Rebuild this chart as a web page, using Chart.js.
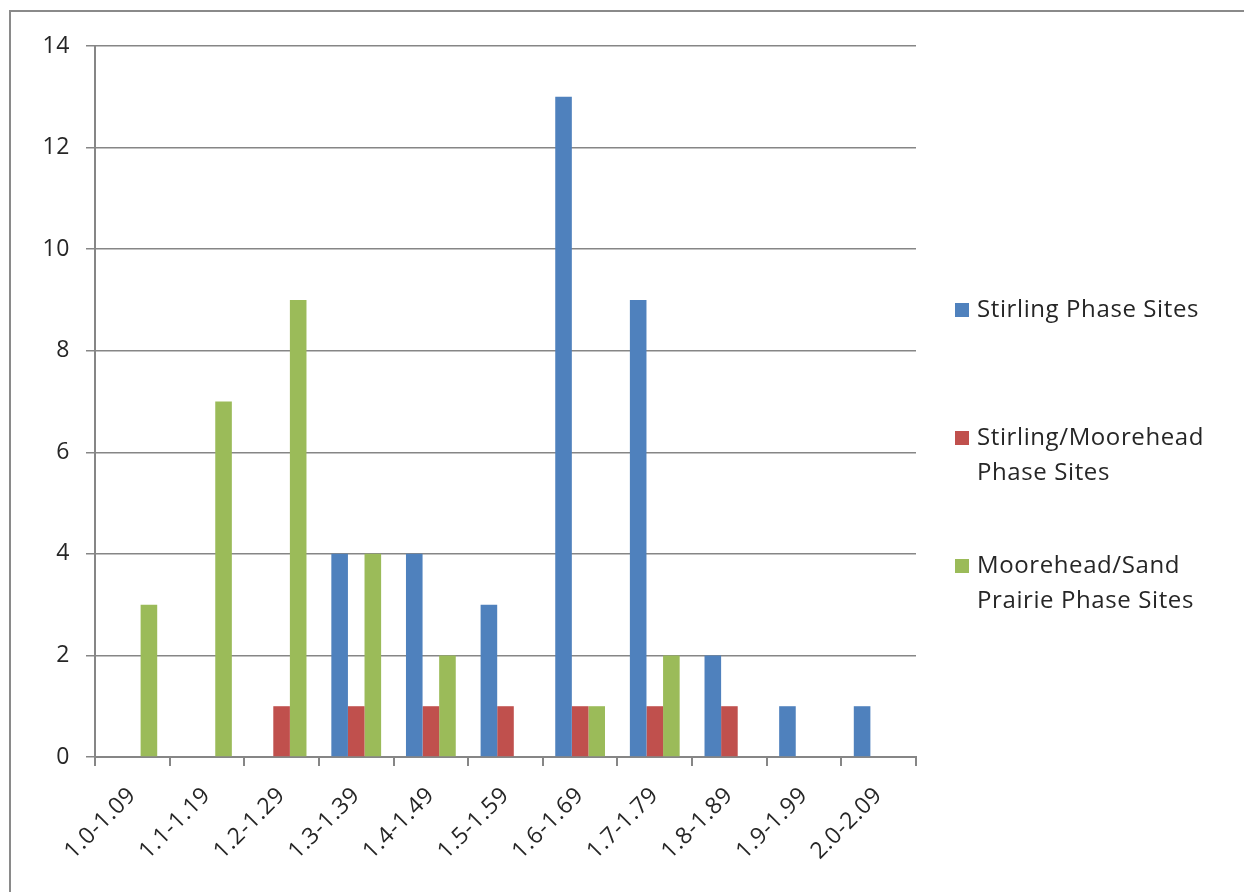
<!DOCTYPE html>
<html>
<head>
<meta charset="utf-8">
<script src="https://cdn.jsdelivr.net/npm/chart.js@4/dist/chart.umd.min.js"></script>
<style>
  html, body { margin: 0; padding: 0; background: #ffffff; }
  #frame {
    position: absolute; left: 9px; top: 10px; width: 1400px; height: 1000px;
    border-top: 2px solid #8a8a8a; border-left: 2px solid #8a8a8a;
  }
  #wrap { position: absolute; left: 0; top: 0; width: 1244px; height: 892px; }
</style>
</head>
<body>
<div id="frame"></div>
<div id="wrap"><canvas id="c" width="1244" height="892"></canvas></div>
<script>
// Ratio ranges (categories)
const categories = ['1.0-1.09', '1.1-1.19', '1.2-1.29', '1.3-1.39', '1.4-1.49', '1.5-1.59',
                    '1.6-1.69', '1.7-1.79', '1.8-1.89', '1.9-1.99', '2.0-2.09'];

// Site counts per phase
const stirling          = [0, 0, 0, 4, 4, 3, 13, 9, 2, 1, 1];
const stirlingMoorehead = [0, 0, 1, 1, 1, 1, 1, 1, 1, 0, 0];
const mooreheadSand     = [3, 7, 9, 4, 2, 0, 1, 2, 0, 0, 0];

// Legend text, split the way it wraps
const seriesNames = [
  ['Stirling Phase Sites'],
  ['Stirling/Moorehead', 'Phase Sites'],
  ['Moorehead/Sand', 'Prairie Phase Sites']
];

const yTicks = [0, 2, 4, 6, 8, 10, 12, 14];

const colors = ['#4f81bd', '#c0504d', '#9bbb59'];
const FONT = '"Open Sans", Lato, sans-serif';
const TEXT = '#262626';
const SPACING = '0.6px';

// Slightly open letter spacing for all chart text
const textSpacing = {
  id: 'textSpacing',
  beforeDraw(chart) { chart.ctx.letterSpacing = SPACING; }
};

// Wrapped legend drawn at the right of the plot area
const sideLegend = {
  id: 'sideLegend',
  afterDraw(chart) {
    const ctx = chart.ctx;
    const area = chart.chartArea;
    const x0 = area.right + 39;
    const lineH = 35;
    ctx.save();
    ctx.letterSpacing = SPACING;
    ctx.font = '24px ' + FONT;
    ctx.textBaseline = 'middle';
    ctx.textAlign = 'left';
    chart.data.datasets.forEach((ds, i) => {
      const yFirst = area.top + 264 + i * 128;
      ctx.fillStyle = ds.backgroundColor;
      ctx.fillRect(x0, yFirst - 7, 14, 14);
      ctx.fillStyle = TEXT;
      seriesNames[i].forEach((line, j) => {
        ctx.fillText(line, x0 + 22, yFirst + j * lineH);
      });
    });
    ctx.restore();
  }
};

new Chart(document.getElementById('c'), {
  type: 'bar',
  data: {
    labels: categories,
    datasets: [
      { label: seriesNames[0].join(' '), data: stirling, backgroundColor: colors[0] },
      { label: seriesNames[1].join(' '), data: stirlingMoorehead, backgroundColor: colors[1] },
      { label: seriesNames[2].join(' '), data: mooreheadSand, backgroundColor: colors[2] }
    ]
  },
  options: {
    responsive: false,
    animation: false,
    layout: { padding: { top: 46, right: 328, left: 0, bottom: 0 } },
    datasets: { bar: { barPercentage: 1.0, categoryPercentage: 0.667 } },
    plugins: { legend: { display: false }, tooltip: { enabled: false } },
    scales: {
      x: {
        grid: { display: true, drawOnChartArea: false, offset: true, color: '#868686', lineWidth: 2, tickLength: 9 },
        border: { display: true, color: '#868686', width: 2 },
        ticks: { font: { family: FONT, size: 23 }, color: TEXT, minRotation: 45, maxRotation: 45, padding: 16 },
        afterFit(axis) { axis.height = 135; }
      },
      y: {
        min: 0, max: 14,
        afterBuildTicks(axis) { axis.ticks = yTicks.map(v => ({ value: v })); },
        grid: { color: '#868686', lineWidth: 1.5, tickLength: 9 },
        border: { display: true, color: '#868686', width: 2 },
        ticks: { font: { family: FONT, size: 23 }, color: TEXT, padding: 16 },
        afterFit(axis) { axis.width = 95; }
      }
    }
  },
  plugins: [textSpacing, sideLegend]
});
</script>
</body>
</html>
